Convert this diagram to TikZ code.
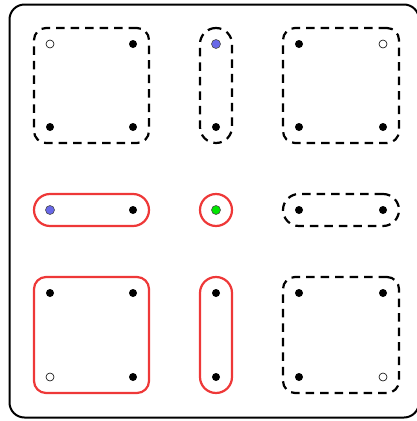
\documentclass[tikz,border=0pt]{standalone}
\usetikzlibrary{fit}
\definecolor{redline}{RGB}{238,56,56}
\definecolor{bluedot}{RGB}{104,104,232}
\definecolor{greendot}{RGB}{0,230,0}
\tikzset{
  dot/.style={circle,fill=black,inner sep=0pt,minimum size=8pt},
  opendot/.style={circle,draw=black,fill=white,line width=0.6pt,inner sep=0pt,minimum size=8pt},
  bluept/.style={circle,draw=black!70,fill=bluedot,line width=0.6pt,inner sep=0pt,minimum size=9pt},
  greenpt/.style={circle,draw=black!70,fill=greendot,line width=0.6pt,inner sep=0pt,minimum size=9pt},
  dashsq/.style={draw=black,line width=2.2pt,dash pattern=on 8.5pt off 6pt,rounded corners=12pt,inner sep=16pt},
  redsq/.style={draw=redline,line width=2.2pt,rounded corners=12pt,inner sep=16pt},
  dashpill/.style={draw=black,line width=2.2pt,dash pattern=on 8.5pt off 6pt,rounded corners=16pt,inner sep=16pt},
  redpill/.style={draw=redline,line width=2.2pt,rounded corners=16pt,inner sep=16pt},
  outerbox/.style={draw=black,line width=2pt,rounded corners=15pt},
}
\begin{document}
\begin{tikzpicture}[x=1pt,y=-1pt]
\useasboundingbox (0,0) rectangle (417,421);
\draw[outerbox] (9.5,4.5) rectangle (419,417.5);
% row 1
\node[opendot] (a1) at (50,44) {};
\node[dot] (a2) at (133,44) {};
\node[dot] (a3) at (50,127) {};
\node[dot] (a4) at (133,127) {};
\node[bluept] (b1) at (216,44) {};
\node[dot] (b2) at (216,127) {};
\node[dot] (c1) at (299,44) {};
\node[opendot] (c2) at (383,44) {};
\node[dot] (c3) at (299,127) {};
\node[dot] (c4) at (383,127) {};
% row 2
\node[bluept] (d1) at (50,210) {};
\node[dot] (d2) at (133,210) {};
\node[greenpt] (e1) at (216,210) {};
\node[dot] (f1) at (299,210) {};
\node[dot] (f2) at (383,210) {};
% row 3
\node[dot] (g1) at (50,293) {};
\node[dot] (g2) at (133,293) {};
\node[opendot] (g3) at (50,377) {};
\node[dot] (g4) at (133,377) {};
\node[dot] (h1) at (216,293) {};
\node[dot] (h2) at (216,377) {};
\node[dot] (i1) at (299,293) {};
\node[dot] (i2) at (383,293) {};
\node[dot] (i3) at (299,377) {};
\node[opendot] (i4) at (383,377) {};
% groups
\node[dashsq, fit=(a1.center)(a4.center)] (A) {};
\node[dashpill, fit=(b1.center)(b2.center)] (B) {};
\node[dashsq, fit=(c1.center)(c4.center)] (C) {};
\node[redpill, fit=(d1.center)(d2.center)] (D) {};
\node[circle,draw=redline,line width=2.2pt,minimum size=32pt,inner sep=0pt] (E) at (e1) {};
\node[dashpill, fit=(f1.center)(f2.center)] (F) {};
\node[redsq, fit=(g1.center)(g4.center)] (G) {};
\node[redpill, fit=(h1.center)(h2.center)] (H) {};
\node[dashsq, fit=(i1.center)(i4.center)] (I) {};
\end{tikzpicture}
\end{document}
